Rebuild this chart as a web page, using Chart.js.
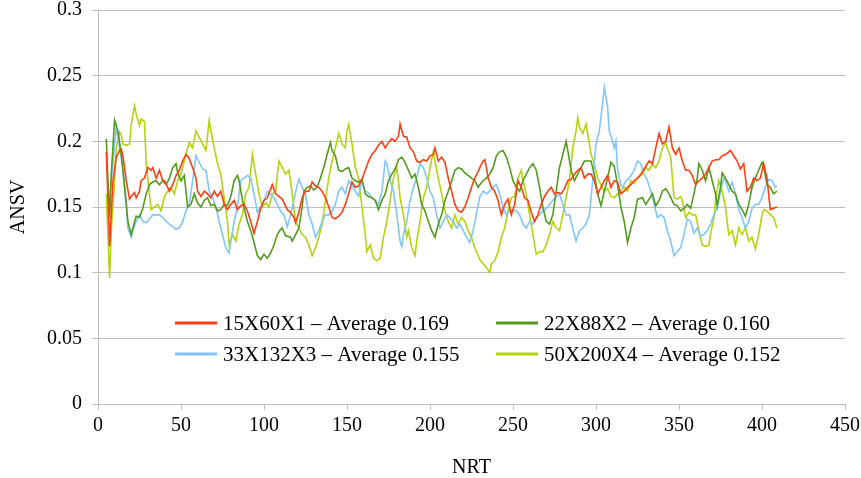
<!DOCTYPE html>
<html>
<head>
<meta charset="utf-8">
<script src="https://cdn.jsdelivr.net/npm/chart.js@4.4.1/dist/chart.umd.min.js"></script>
<style>
  html, body { margin: 0; padding: 0; background: #ffffff; }
  #wrap { width: 861px; height: 478px; }
</style>
</head>
<body>
<div id="wrap"><canvas id="c" width="861" height="478"></canvas></div>
<script>
// ---- data (NRT, ANSV) ----
const seriesLabels = [
  '15X60X1 \u2013 Average 0.169',
  '22X88X2 \u2013 Average 0.160',
  '33X132X3 \u2013 Average 0.155',
  '50X200X4 \u2013 Average 0.152'
];
const xTickValues = [0, 50, 100, 150, 200, 250, 300, 350, 400, 450];
const yTickLabels = ['0', '0.05', '0.1', '0.15', '0.2', '0.25', '0.3'];

const s15X60X1 = [[5,0.192],[7,0.12],[9,0.17],[11,0.188],[13,0.193],[14,0.194],[15,0.189],[16,0.18],[17,0.17],[19,0.156],[20,0.158],[22,0.161],[23,0.157],[25,0.162],[26,0.17],[28,0.172],[30,0.18],[32,0.178],[33,0.18],[35,0.172],[37,0.178],[39,0.17],[40,0.17],[42,0.165],[43,0.162],[45,0.167],[47,0.174],[49,0.178],[51,0.185],[53,0.19],[55,0.187],[56,0.183],[57,0.18],[59,0.172],[60,0.162],[62,0.158],[64,0.162],[66,0.16],[68,0.157],[70,0.162],[72,0.158],[74,0.162],[76,0.152],[78,0.148],[80,0.152],[82,0.155],[84,0.148],[86,0.151],[88,0.152],[90,0.147],[92,0.139],[94,0.13],[96,0.139],[98,0.149],[100,0.155],[102,0.157],[105,0.167],[107,0.16],[109,0.158],[111,0.156],[114,0.148],[116,0.146],[118,0.142],[119,0.138],[121,0.146],[123,0.157],[125,0.162],[127,0.162],[129,0.169],[131,0.166],[133,0.165],[135,0.162],[137,0.157],[139,0.15],[141,0.142],[143,0.141],[145,0.143],[147,0.146],[149,0.152],[151,0.16],[153,0.169],[155,0.165],[157,0.166],[159,0.171],[161,0.178],[163,0.185],[165,0.19],[167,0.193],[169,0.197],[171,0.2],[173,0.195],[175,0.199],[177,0.202],[179,0.2],[181,0.204],[182,0.213],[184,0.204],[186,0.203],[188,0.195],[190,0.192],[192,0.185],[194,0.184],[196,0.186],[198,0.185],[200,0.189],[202,0.19],[203,0.195],[205,0.185],[207,0.188],[209,0.184],[211,0.172],[213,0.162],[215,0.152],[217,0.147],[219,0.146],[221,0.15],[223,0.157],[225,0.165],[227,0.172],[229,0.177],[230,0.18],[232,0.185],[233,0.186],[234,0.18],[235,0.172],[237,0.165],[239,0.162],[241,0.155],[243,0.144],[245,0.152],[247,0.156],[249,0.144],[251,0.152],[253,0.17],[255,0.165],[257,0.157],[259,0.155],[261,0.146],[263,0.139],[265,0.144],[267,0.152],[269,0.158],[271,0.162],[273,0.165],[275,0.16],[277,0.161],[279,0.16],[281,0.164],[283,0.17],[285,0.171],[287,0.175],[289,0.178],[291,0.18],[293,0.172],[295,0.175],[297,0.175],[299,0.17],[301,0.16],[303,0.165],[305,0.17],[307,0.174],[309,0.165],[311,0.17],[313,0.169],[315,0.16],[317,0.162],[319,0.165],[321,0.167],[323,0.17],[325,0.172],[327,0.175],[330,0.181],[332,0.185],[334,0.183],[336,0.195],[338,0.206],[340,0.198],[342,0.2],[344,0.211],[346,0.195],[348,0.19],[350,0.195],[352,0.185],[354,0.178],[356,0.178],[358,0.174],[360,0.167],[362,0.17],[364,0.172],[366,0.175],[368,0.18],[370,0.185],[372,0.186],[374,0.186],[376,0.189],[378,0.19],[380,0.192],[381,0.193],[383,0.189],[385,0.185],[387,0.179],[389,0.183],[391,0.162],[393,0.165],[395,0.172],[397,0.17],[399,0.172],[401,0.183],[403,0.172],[405,0.148],[407,0.149],[409,0.15]];

const s22X88X2 = [[5,0.202],[6,0.17],[7,0.142],[8,0.175],[10,0.216],[12,0.208],[14,0.19],[16,0.165],[18,0.139],[20,0.129],[21,0.134],[23,0.143],[25,0.142],[27,0.149],[29,0.16],[31,0.167],[33,0.169],[35,0.17],[37,0.167],[39,0.17],[41,0.167],[43,0.172],[45,0.18],[47,0.183],[48,0.176],[50,0.17],[52,0.174],[54,0.15],[56,0.152],[58,0.16],[60,0.153],[62,0.15],[64,0.155],[66,0.157],[68,0.151],[70,0.152],[72,0.147],[74,0.148],[76,0.152],[78,0.151],[80,0.158],[82,0.17],[84,0.174],[85,0.17],[87,0.155],[90,0.139],[92,0.132],[94,0.123],[96,0.113],[98,0.11],[100,0.114],[102,0.111],[104,0.115],[106,0.121],[108,0.129],[110,0.133],[111,0.134],[113,0.128],[116,0.127],[117,0.124],[119,0.129],[121,0.134],[123,0.15],[124,0.162],[126,0.165],[128,0.166],[130,0.163],[132,0.165],[134,0.172],[136,0.18],[138,0.19],[140,0.199],[141,0.193],[143,0.189],[145,0.178],[147,0.177],[149,0.179],[151,0.18],[153,0.172],[155,0.17],[157,0.169],[159,0.171],[161,0.16],[163,0.158],[165,0.157],[167,0.155],[169,0.148],[171,0.155],[173,0.16],[175,0.17],[177,0.175],[179,0.179],[181,0.186],[183,0.188],[185,0.184],[187,0.178],[189,0.172],[191,0.175],[193,0.165],[195,0.152],[197,0.147],[199,0.139],[201,0.132],[203,0.127],[205,0.137],[207,0.144],[209,0.155],[211,0.162],[213,0.17],[215,0.178],[217,0.18],[219,0.179],[221,0.176],[223,0.174],[225,0.172],[227,0.17],[229,0.165],[230,0.167],[232,0.17],[234,0.172],[236,0.175],[238,0.18],[240,0.189],[242,0.192],[244,0.193],[246,0.188],[248,0.18],[250,0.17],[252,0.165],[254,0.162],[256,0.17],[258,0.175],[260,0.18],[262,0.183],[264,0.178],[266,0.165],[268,0.15],[270,0.139],[272,0.137],[274,0.144],[276,0.162],[278,0.18],[280,0.19],[282,0.2],[283,0.193],[285,0.178],[287,0.17],[289,0.175],[291,0.18],[293,0.185],[295,0.185],[297,0.185],[299,0.175],[301,0.16],[303,0.151],[305,0.162],[307,0.172],[309,0.184],[311,0.181],[313,0.167],[315,0.15],[317,0.139],[319,0.123],[321,0.134],[323,0.142],[325,0.156],[328,0.157],[330,0.152],[332,0.156],[334,0.16],[336,0.151],[338,0.155],[340,0.162],[342,0.164],[344,0.16],[347,0.152],[349,0.151],[351,0.147],[353,0.149],[355,0.152],[357,0.149],[359,0.16],[361,0.172],[362,0.183],[364,0.178],[366,0.17],[368,0.18],[370,0.17],[372,0.16],[373,0.151],[375,0.165],[376,0.176],[378,0.172],[380,0.167],[382,0.162],[384,0.16],[386,0.152],[388,0.148],[390,0.143],[392,0.152],[394,0.165],[396,0.172],[398,0.178],[400,0.184],[401,0.181],[403,0.167],[405,0.165],[407,0.16],[409,0.162]];

const s33X132X3 = [[6,0.14],[8,0.17],[11,0.211],[13,0.195],[15,0.18],[17,0.155],[18,0.134],[20,0.127],[21,0.132],[23,0.139],[25,0.144],[27,0.139],[29,0.138],[31,0.141],[33,0.144],[35,0.144],[37,0.144],[39,0.142],[41,0.139],[43,0.137],[45,0.135],[47,0.133],[49,0.134],[51,0.139],[53,0.147],[55,0.152],[57,0.17],[59,0.189],[61,0.184],[63,0.179],[65,0.178],[67,0.162],[69,0.157],[71,0.15],[73,0.139],[75,0.129],[77,0.119],[79,0.115],[80,0.124],[82,0.139],[84,0.15],[86,0.17],[88,0.172],[90,0.174],[92,0.172],[94,0.16],[96,0.146],[98,0.15],[100,0.155],[102,0.162],[104,0.16],[106,0.157],[108,0.152],[110,0.147],[112,0.144],[114,0.135],[116,0.144],[118,0.155],[120,0.167],[121,0.171],[123,0.165],[125,0.16],[127,0.144],[129,0.137],[131,0.127],[133,0.132],[135,0.139],[137,0.144],[139,0.144],[141,0.147],[143,0.152],[145,0.162],[147,0.165],[149,0.16],[151,0.17],[153,0.167],[155,0.162],[157,0.158],[159,0.17],[161,0.162],[163,0.161],[165,0.157],[167,0.155],[169,0.152],[171,0.162],[173,0.185],[174,0.183],[176,0.17],[178,0.162],[180,0.144],[182,0.124],[183,0.12],[184,0.129],[186,0.139],[188,0.155],[190,0.165],[192,0.172],[194,0.183],[196,0.18],[198,0.172],[200,0.162],[202,0.157],[204,0.144],[206,0.134],[208,0.139],[210,0.144],[212,0.142],[214,0.139],[216,0.134],[218,0.137],[220,0.132],[222,0.127],[224,0.123],[226,0.132],[228,0.145],[230,0.158],[232,0.162],[234,0.16],[236,0.162],[238,0.165],[240,0.167],[242,0.16],[244,0.15],[246,0.144],[248,0.147],[250,0.148],[252,0.147],[254,0.144],[256,0.137],[258,0.134],[260,0.139],[262,0.137],[264,0.142],[266,0.144],[268,0.147],[270,0.149],[272,0.152],[274,0.155],[276,0.158],[278,0.16],[280,0.152],[282,0.144],[284,0.144],[286,0.134],[288,0.124],[290,0.132],[292,0.134],[294,0.137],[296,0.144],[298,0.17],[300,0.198],[302,0.208],[304,0.229],[305,0.241],[307,0.226],[308,0.208],[310,0.2],[311,0.195],[312,0.2],[313,0.178],[315,0.167],[316,0.165],[318,0.17],[320,0.172],[323,0.178],[325,0.185],[327,0.183],[329,0.175],[331,0.17],[333,0.162],[335,0.152],[337,0.142],[339,0.144],[341,0.142],[343,0.132],[345,0.124],[347,0.113],[349,0.116],[351,0.119],[353,0.129],[355,0.141],[357,0.139],[359,0.13],[361,0.134],[363,0.128],[365,0.129],[367,0.132],[369,0.137],[371,0.144],[373,0.149],[375,0.162],[377,0.172],[378,0.17],[380,0.162],[382,0.169],[384,0.16],[386,0.148],[388,0.142],[390,0.134],[392,0.139],[394,0.149],[396,0.152],[398,0.152],[400,0.157],[402,0.165],[404,0.171],[406,0.17],[408,0.165],[409,0.166]];

const s50X200X4 = [[5,0.16],[7,0.096],[8,0.132],[10,0.17],[11,0.195],[13,0.207],[14,0.205],[15,0.198],[17,0.197],[19,0.198],[20,0.213],[22,0.227],[23,0.221],[25,0.212],[26,0.217],[28,0.215],[29,0.183],[31,0.16],[32,0.148],[34,0.15],[36,0.152],[38,0.147],[40,0.158],[42,0.162],[44,0.165],[46,0.16],[48,0.17],[50,0.175],[52,0.185],[54,0.195],[55,0.199],[57,0.195],[59,0.208],[61,0.203],[63,0.198],[65,0.193],[67,0.216],[68,0.208],[70,0.195],[72,0.183],[74,0.175],[76,0.157],[78,0.139],[79,0.121],[81,0.129],[83,0.124],[85,0.137],[87,0.144],[89,0.16],[91,0.165],[93,0.19],[95,0.175],[97,0.16],[99,0.15],[101,0.153],[103,0.15],[105,0.16],[107,0.162],[109,0.185],[111,0.18],[113,0.175],[115,0.178],[117,0.16],[119,0.139],[121,0.134],[123,0.129],[125,0.127],[127,0.121],[129,0.113],[131,0.119],[133,0.127],[135,0.137],[137,0.155],[139,0.172],[141,0.185],[143,0.195],[145,0.206],[147,0.198],[149,0.195],[150,0.208],[151,0.213],[153,0.198],[155,0.18],[157,0.172],[159,0.15],[161,0.129],[162,0.116],[164,0.121],[166,0.111],[168,0.109],[170,0.111],[172,0.127],[174,0.139],[176,0.155],[178,0.172],[180,0.18],[181,0.17],[182,0.157],[184,0.144],[186,0.127],[187,0.132],[189,0.119],[191,0.113],[192,0.124],[194,0.139],[196,0.157],[198,0.165],[200,0.18],[202,0.192],[203,0.185],[205,0.172],[207,0.16],[209,0.147],[211,0.139],[213,0.134],[215,0.144],[217,0.137],[219,0.142],[221,0.139],[223,0.132],[225,0.127],[227,0.119],[230,0.11],[232,0.107],[234,0.104],[236,0.1],[237,0.107],[239,0.109],[241,0.116],[243,0.127],[245,0.134],[247,0.147],[249,0.157],[251,0.158],[253,0.172],[255,0.178],[256,0.17],[258,0.16],[260,0.144],[262,0.129],[264,0.114],[266,0.116],[268,0.116],[270,0.121],[272,0.129],[274,0.139],[276,0.134],[278,0.132],[280,0.144],[282,0.157],[284,0.17],[286,0.195],[288,0.208],[289,0.218],[290,0.211],[292,0.206],[294,0.213],[296,0.198],[297,0.19],[299,0.183],[301,0.172],[303,0.167],[305,0.162],[307,0.164],[309,0.158],[311,0.157],[313,0.16],[315,0.162],[317,0.165],[319,0.162],[321,0.17],[323,0.168],[325,0.172],[328,0.175],[330,0.18],[332,0.178],[334,0.183],[336,0.18],[338,0.185],[340,0.195],[342,0.199],[343,0.195],[345,0.188],[347,0.157],[349,0.156],[351,0.158],[352,0.155],[354,0.142],[356,0.146],[358,0.144],[360,0.144],[362,0.132],[364,0.121],[366,0.12],[368,0.121],[369,0.129],[371,0.142],[372,0.155],[374,0.17],[376,0.162],[378,0.15],[380,0.129],[382,0.132],[384,0.121],[386,0.134],[388,0.129],[390,0.134],[392,0.124],[394,0.127],[396,0.118],[398,0.129],[400,0.144],[401,0.148],[403,0.147],[405,0.144],[407,0.142],[408,0.138],[409,0.134]];

const seriesValues = [s15X60X1, s22X88X2, s33X132X3, s50X200X4];
const seriesColors = ['#ff3f12', '#529c1c', '#80c6fd', '#b4d40c'];

// ---- chart ----
const FONT = { family: '"Liberation Serif", "Times New Roman", serif', size: 20 };
const LEGEND_FONT_SIZE = 21;
const GRID = '#bfbfbf';

const insideLegend = {
  id: 'insideLegend',
  afterDatasetsDraw(chart) {
    const { ctx, chartArea } = chart;
    const rows = [chartArea.bottom - 81, chartArea.bottom - 50];
    const cols = [chartArea.left + 77, chartArea.left + 398];
    ctx.save();
    ctx.font = LEGEND_FONT_SIZE + 'px ' + FONT.family;
    ctx.textBaseline = 'middle';
    ctx.textAlign = 'left';
    chart.data.datasets.forEach((ds, i) => {
      const x = cols[i % 2], y = rows[Math.floor(i / 2)];
      ctx.strokeStyle = ds.borderColor;
      ctx.lineWidth = 3;
      ctx.beginPath();
      ctx.moveTo(x, y);
      ctx.lineTo(x + 42, y);
      ctx.stroke();
      ctx.fillStyle = '#000';
      ctx.fillText(ds.label, x + 48, y + 1);
    });
    ctx.restore();
  }
};

new Chart(document.getElementById('c'), {
  type: 'line',
  data: {
    datasets: seriesValues.map((vals, i) => ({
      label: seriesLabels[i],
      data: vals.map(p => ({ x: p[0], y: p[1] })),
      borderColor: seriesColors[i],
      backgroundColor: seriesColors[i],
      borderWidth: 1.6,
      pointRadius: 0,
      tension: 0,
      fill: false
    }))
  },
  options: {
    responsive: false,
    animation: false,
    events: [],
    layout: { padding: { left: 0, right: 16, top: 10, bottom: -2 } },
    plugins: { legend: { display: false }, tooltip: { enabled: false } },
    scales: {
      x: {
        type: 'linear', min: 0, max: 450,
        afterBuildTicks: s => { s.ticks = xTickValues.map(v => ({ value: v })); },
        ticks: { font: FONT, color: '#000', padding: 4, maxRotation: 0, autoSkip: false },
        grid: { drawOnChartArea: false, drawTicks: true, tickLength: 6, color: GRID },
        border: { color: GRID },
        title: { display: true, text: 'NRT', font: FONT, color: '#000', padding: { top: 0, bottom: 0 } },
        afterFit: s => { s.height = 76; s.paddingLeft = 0; s.paddingRight = 0; }
      },
      y: {
        type: 'linear', min: 0, max: 0.3,
        afterBuildTicks: s => { s.ticks = yTickLabels.map(t => ({ value: parseFloat(t) })); },
        ticks: { font: FONT, color: '#000', padding: 10, autoSkip: false,
                 callback: (v, i) => yTickLabels[i] },
        grid: { color: GRID, tickLength: 6 },
        border: { color: GRID },
        title: { display: true, text: 'ANSV', font: FONT, color: '#000', padding: { top: 7, bottom: 0 } },
        afterFit: s => { s.width = 98; s.paddingTop = 0; s.paddingBottom = 0; }
      }
    }
  },
  plugins: [insideLegend]
});
</script>
</body>
</html>
